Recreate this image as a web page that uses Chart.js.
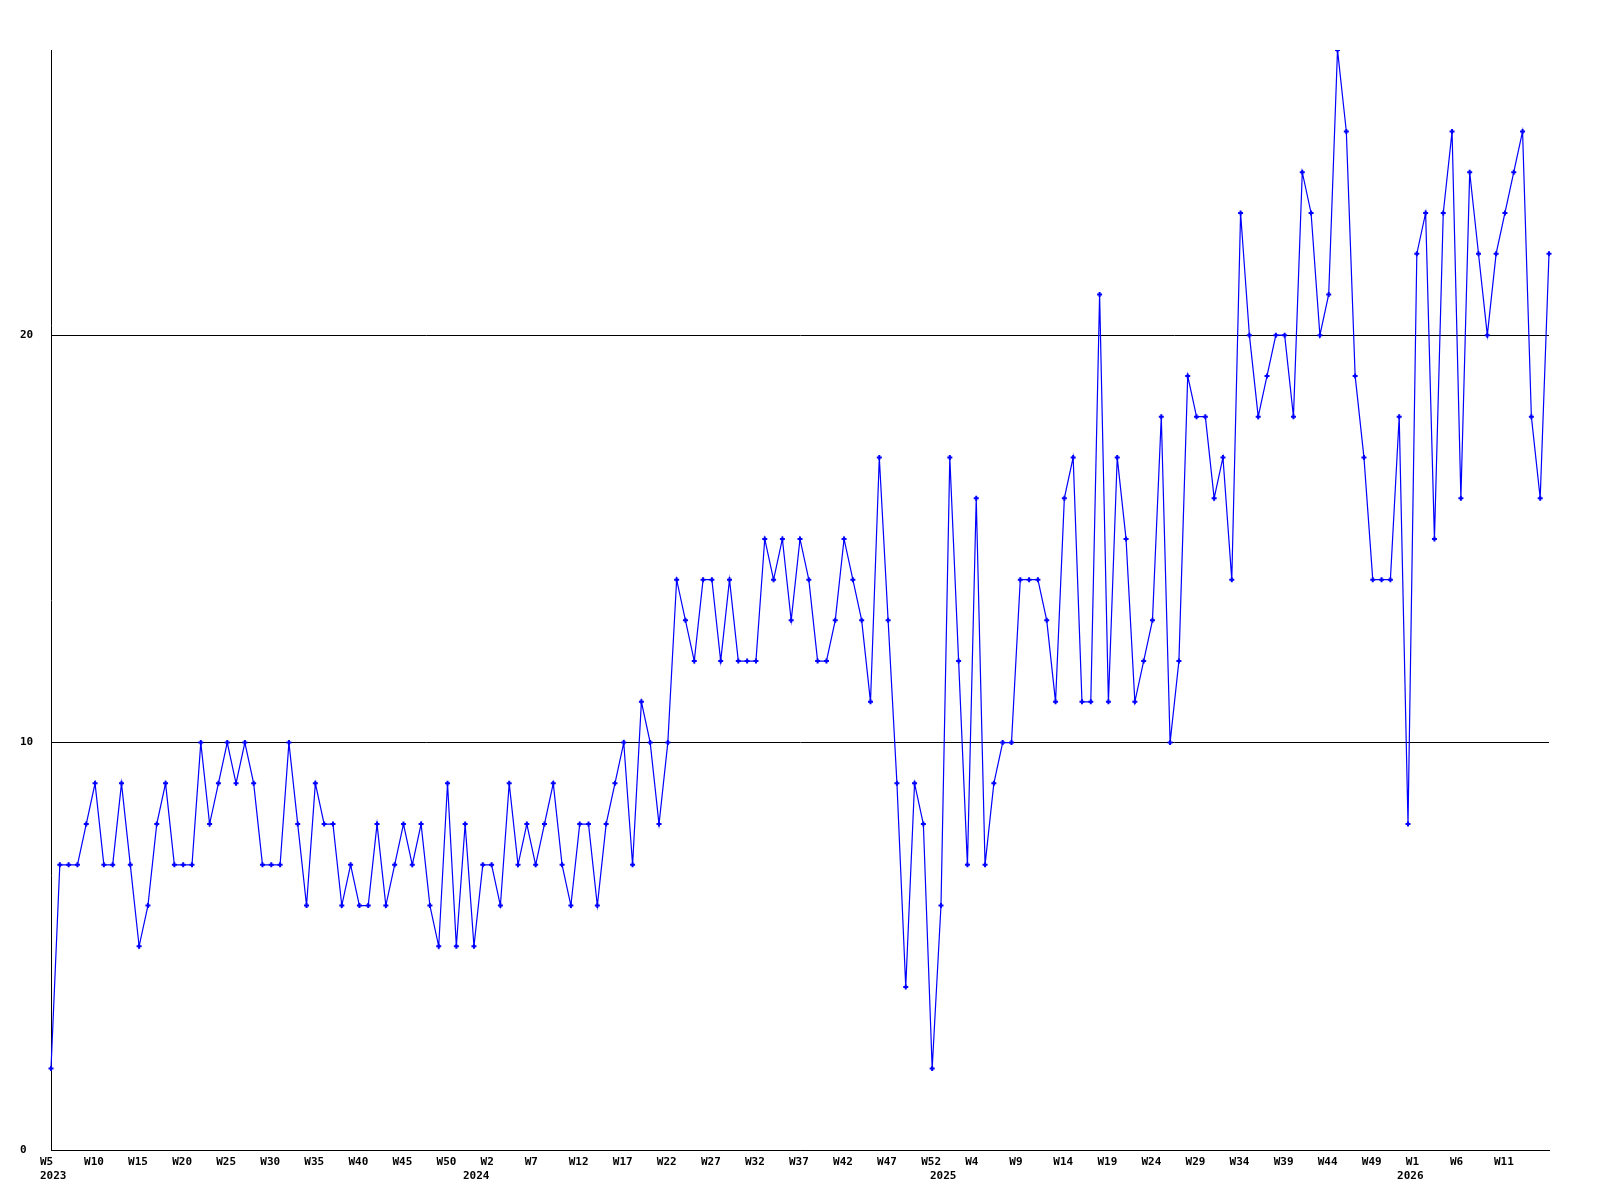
<!DOCTYPE html>
<html>
<head>
<meta charset="utf-8">
<title>Weekly count</title>
<script src="https://cdn.jsdelivr.net/npm/chart.js@4/dist/chart.umd.min.js"></script>
<style>
    html, body { margin: 0; padding: 0; background: #ffffff; }
</style>
</head>
<body>
<canvas id="weekChart" width="1600" height="1200"></canvas>
<script>
// weeks shown per year (first and last week number of each run)
const years = [2023, 2024, 2025, 2026];
const firstWeek = [5, 0, 0, 0];
const lastWeek = [52, 52, 52, 16];

const yTicks = [0, 10, 20];
const yMax = 27;

// one value per week
const counts = [
    2, 7, 7, 7, 8, 9, 7, 7, 9, 7, 5, 6, 8, 9, 7, 7, 7, 10, 8, 9, 10, 9, 10, 9, 7, 7, 7, 10, 8, 6, 9, 8,
    8, 6, 7, 6, 6, 8, 6, 7, 8, 7, 8, 6, 5, 9, 5, 8, 5, 7, 7, 6, 9, 7, 8, 7, 8, 9, 7, 6, 8, 8, 6, 8, 9,
    10, 7, 11, 10, 8, 10, 14, 13, 12, 14, 14, 12, 14, 12, 12, 12, 15, 14, 15, 13, 15, 14, 12, 12, 13, 15, 14, 13, 11, 17, 13, 9,
    4, 9, 8, 2, 6, 17, 12, 7, 16, 7, 9, 10, 10, 14, 14, 14, 13, 11, 16, 17, 11, 11, 21, 11, 17, 15, 11, 12, 13, 18, 10, 12,
    19, 18, 18, 16, 17, 14, 23, 20, 18, 19, 20, 20, 18, 24, 23, 20, 21, 27, 25, 19, 17, 14, 14, 14, 18, 8, 22, 23, 15, 23, 25, 16,
    24, 22, 20, 22, 23, 24, 25, 18, 16, 22
];

let weekLabels = [];
let yearLabels = [];
years.forEach((year, i) => {
    for (let w = firstWeek[i]; w <= lastWeek[i]; w++) {
        weekLabels.push('W' + w);
        yearLabels.push(w === firstWeek[i] ? String(year) : '');
    }
});

const tickFont = {
    family: '"DejaVu Sans Mono", monospace',
    size: 11,
    weight: 'bold',
    lineHeight: '14px'
};

function initChart() {
    const ctx = document.getElementById('weekChart').getContext('2d');

    new Chart(ctx, {
        type: 'line',
        data: {
            labels: weekLabels,
            datasets: [{
                data: counts,
                borderColor: '#0000ff',
                backgroundColor: '#0000ff',
                borderWidth: 1.2,
                tension: 0,
                fill: false,
                pointStyle: 'cross',
                pointRadius: 2.5,
                pointBorderWidth: 2,
                pointBorderColor: '#0000ff'
            }]
        },
        options: {
            responsive: false,
            animation: false,
            layout: {
                padding: { left: 20, top: 50, right: 51, bottom: 0 }
            },
            plugins: {
                legend: { display: false },
                tooltip: { enabled: false }
            },
            scales: {
                x: {
                    offset: false,
                    grid: { display: false, drawTicks: false },
                    border: { display: true, color: '#000000', width: 1 },
                    ticks: {
                        autoSkip: false,
                        maxRotation: 0,
                        minRotation: 0,
                        align: 'start',
                        labelOffset: -11,
                        padding: 5,
                        color: '#000000',
                        font: tickFont,
                        callback: function(value, index) {
                            // every fifth week, but no label on the last point
                            const showWeek = index % 5 === 0 && index < weekLabels.length - 1;
                            const week = showWeek ? weekLabels[index] : '';
                            if (yearLabels[index]) {
                                return [week, yearLabels[index]];
                            }
                            return week;
                        }
                    },
                    afterFit: function(scale) {
                        scale.height = 50;
                    }
                },
                y: {
                    min: yTicks[0],
                    max: yMax,
                    grid: {
                        color: '#000000',
                        lineWidth: 1,
                        drawTicks: false
                    },
                    border: { display: true, color: '#000000', width: 1 },
                    ticks: {
                        stepSize: yTicks[1] - yTicks[0],
                        includeBounds: false,
                        crossAlign: 'far',
                        padding: 0,
                        color: '#000000',
                        font: tickFont
                    },
                    afterFit: function(scale) {
                        scale.width = 31;
                    }
                }
            }
        }
    });
}

window.onload = function() {
    initChart();
};
</script>
</body>
</html>
